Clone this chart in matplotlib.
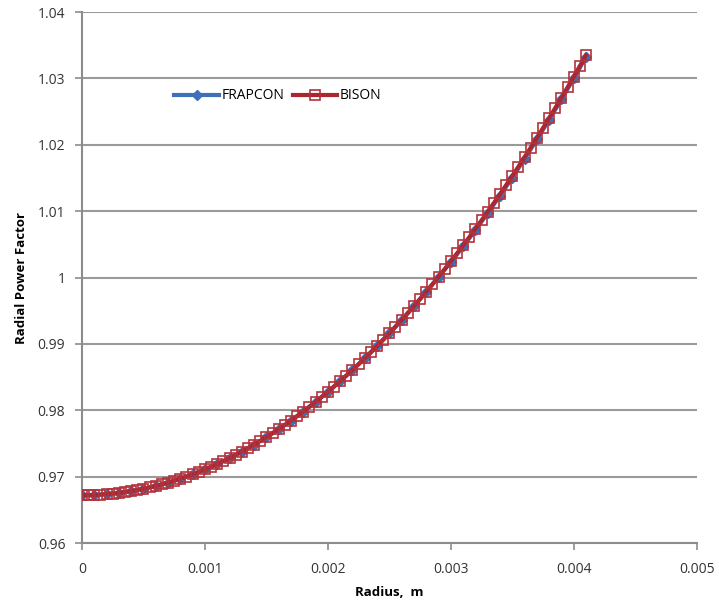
import matplotlib.pyplot as plt

# BISON radial power factor
radius_bison = [
    0.0, 0.00005, 0.0001, 0.00015, 0.0002, 0.00025, 0.0003, 0.00035, 0.0004, 0.00045,
    0.0005, 0.00055, 0.0006, 0.00065, 0.0007, 0.00075, 0.0008, 0.00085, 0.0009, 0.00095,
    0.001, 0.00105, 0.0011, 0.00115, 0.0012, 0.00125, 0.0013, 0.00135, 0.0014, 0.00145,
    0.0015, 0.00155, 0.0016, 0.00165, 0.0017, 0.00175, 0.0018, 0.00185, 0.0019, 0.00195,
    0.002, 0.00205, 0.0021, 0.00215, 0.0022, 0.00225, 0.0023, 0.00235, 0.0024, 0.00245,
    0.0025, 0.00255, 0.0026, 0.00265, 0.0027, 0.00275, 0.0028, 0.00285, 0.0029, 0.00295,
    0.003, 0.00305, 0.0031, 0.00315, 0.0032, 0.00325, 0.0033, 0.00335, 0.0034, 0.00345,
    0.0035, 0.00355, 0.0036, 0.00365, 0.0037, 0.00375, 0.0038, 0.00385, 0.0039, 0.00395,
    0.004, 0.00405, 0.0041,
]
power_bison = [
    0.96720, 0.96721, 0.96724, 0.96729, 0.96736, 0.96744, 0.96755, 0.96768, 0.96782, 0.96799,
    0.96817, 0.96837, 0.96860, 0.96884, 0.96910, 0.96938, 0.96969, 0.97001, 0.97035, 0.97070,
    0.97108, 0.97148, 0.97190, 0.97234, 0.97279, 0.97327, 0.97377, 0.97428, 0.97482, 0.97537,
    0.97595, 0.97654, 0.97716, 0.97779, 0.97844, 0.97912, 0.97981, 0.98052, 0.98126, 0.98201,
    0.98278, 0.98357, 0.98438, 0.98522, 0.98607, 0.98694, 0.98783, 0.98874, 0.98967, 0.99063,
    0.99160, 0.99259, 0.99360, 0.99463, 0.99569, 0.99676, 0.99785, 0.99897, 1.00010, 1.00125,
    1.00243, 1.00362, 1.00484, 1.00607, 1.00733, 1.00861, 1.00991, 1.01122, 1.01256, 1.01392,
    1.01530, 1.01671, 1.01813, 1.01957, 1.02104, 1.02252, 1.02403, 1.02556, 1.02710, 1.02867,
    1.03026, 1.03188, 1.03352,
]

# FRAPCON radial power factor
radius_frapcon = [
    0.0, 0.0001, 0.0002, 0.0003, 0.0004, 0.0005, 0.0006, 0.0007, 0.0008, 0.0009,
    0.001, 0.0011, 0.0012, 0.0013, 0.0014, 0.0015, 0.0016, 0.0017, 0.0018, 0.0019,
    0.002, 0.0021, 0.0022, 0.0023, 0.0024, 0.0025, 0.0026, 0.0027, 0.0028, 0.0029,
    0.003, 0.0031, 0.0032, 0.0033, 0.0034, 0.0035, 0.0036, 0.0037, 0.0038, 0.0039,
    0.004, 0.0041,
]
power_frapcon = [
    0.96720, 0.96724, 0.96736, 0.96755, 0.96782, 0.96817, 0.96860, 0.96910, 0.96969, 0.97035,
    0.97108, 0.97190, 0.97279, 0.97377, 0.97482, 0.97595, 0.97716, 0.97844, 0.97981, 0.98126,
    0.98278, 0.98438, 0.98607, 0.98783, 0.98967, 0.99160, 0.99360, 0.99569, 0.99785, 1.00010,
    1.00230, 1.00470, 1.00715, 1.00970, 1.01235, 1.01505, 1.01790, 1.02080, 1.02380, 1.02685,
    1.03000, 1.03325,
]

x_ticks = [0, 0.001, 0.002, 0.003, 0.004, 0.005]
x_tick_labels = ['0', '0.001', '0.002', '0.003', '0.004', '0.005']
y_ticks = [0.96, 0.97, 0.98, 0.99, 1.0, 1.01, 1.02, 1.03, 1.04]
y_tick_labels = ['0.96', '0.97', '0.98', '0.99', '1', '1.01', '1.02', '1.03', '1.04']

plt.rcParams['font.family'] = ['Open Sans', 'DejaVu Sans']

fig = plt.figure(figsize=(7.19, 6.02), dpi=100)
ax = fig.add_axes([0.114, 0.098, 0.855, 0.882])

ax.plot(radius_frapcon, power_frapcon, color='#3F6FB8', linewidth=3,
        marker='D', markersize=5, label='FRAPCON', zorder=3)
ax.plot(radius_bison, power_bison, color='#AA2630', linewidth=3,
        marker='s', markersize=7.2, markerfacecolor='none', markeredgecolor='#B3323A',
        markeredgewidth=1.2, label='BISON', zorder=4)

ax.set_xlim(0, 0.005)
ax.set_ylim(0.96, 1.04)
ax.set_xticks(x_ticks)
ax.set_xticklabels(x_tick_labels)
ax.set_yticks(y_ticks)
ax.set_yticklabels(y_tick_labels)

ax.yaxis.grid(True, color='#9A9A9A', linewidth=1.5)
ax.set_axisbelow(True)
for side in ['top', 'right']:
    ax.spines[side].set_visible(False)
for side in ['left', 'bottom']:
    ax.spines[side].set_color('#8C8C8C')
    ax.spines[side].set_linewidth(1.5)
ax.tick_params(axis='both', direction='out', length=5, width=1.2, color='#8C8C8C',
               labelsize=10, labelcolor='#333333')
ax.tick_params(axis='x', pad=9)
ax.tick_params(axis='y', pad=7)

ax.set_xlabel('Radius,  m', fontsize=9.5, fontweight='bold', labelpad=6)
ax.set_ylabel('Radial Power Factor', fontsize=9.5, fontweight='bold', labelpad=7)

ax.legend(loc='center left', bbox_to_anchor=(0.13, 0.842), ncol=2, frameon=False,
          fontsize=10, handlelength=3.2, handletextpad=0.2, columnspacing=0.6,
          markerscale=1.0)

fig.savefig('out.png', dpi=100)
